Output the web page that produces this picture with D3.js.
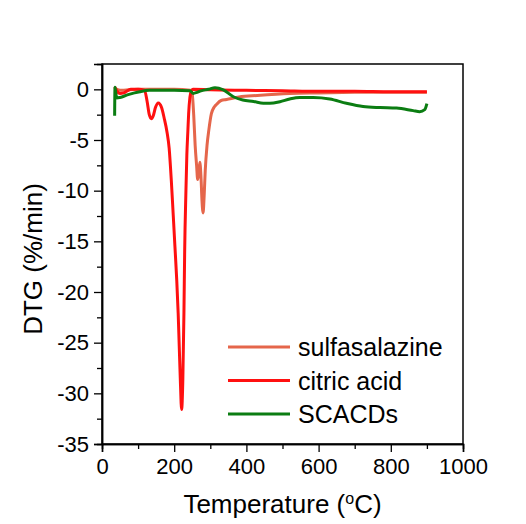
<!DOCTYPE html>
<html>
<head>
<meta charset="utf-8">
<script src="https://cdn.jsdelivr.net/npm/d3@7"></script>
<style>
  body { margin: 0; background: #fff; }
  svg text { font-family: "Liberation Sans", Arial, sans-serif; fill: #000; }
</style>
</head>
<body>
<div id="chart"></div>
<script>
// series names and colours
var seriesNames = ["sulfasalazine", "citric acid", "SCACDs"];
var seriesColors = ["#e5664b", "#ff1010", "#0b7d12"];

// temperature (°C) and DTG (%/min)
var sulfaT = [35, 50, 100, 200, 245, 250, 254, 258, 262, 265, 268, 271, 274, 277, 280, 283, 286, 291, 296, 303, 310, 317, 330, 345, 380, 430, 520, 600, 700, 800, 900];
var sulfaV = [0.1, -0.1, 0, 0, -0.1, -0.5, -2.5, -5.5, -7.5, -8.9, -8.3, -7.2, -8.5, -11, -12.2, -10.5, -8, -5.5, -4, -2.4, -1.8, -1.5, -1.1, -1.0, -0.75, -0.6, -0.4, -0.35, -0.3, -0.28, -0.3];

var citricT = [35, 40, 50, 60, 70, 80, 100, 118, 125, 131, 137, 142, 148, 156, 165, 172, 180, 186, 192, 197, 202, 207, 211, 214, 217, 220.5, 224, 227, 229, 232.5, 235, 238, 240, 243.5, 247, 252, 300, 400, 500, 600, 700, 800, 900];
var citricV = [0.25, -0.1, -0.4, -0.35, -0.15, 0, 0, -0.1, -1.2, -2.5, -2.9, -2.6, -1.8, -1.35, -1.8, -2.8, -4.2, -5.8, -9, -12.2, -15.5, -18.8, -22.1, -25.4, -28.7, -31.6, -28.5, -22, -16, -10, -6.5, -4, -2.4, -0.8, -0.2, 0, -0.05, -0.1, -0.15, -0.2, -0.2, -0.25, -0.25];

var scacdT = [35, 36, 38, 41, 50, 70, 90, 105, 131, 155, 200, 243, 253, 263, 274, 295, 313, 336, 364, 390, 420, 447, 465, 493, 520, 548, 585, 631, 677, 723, 770, 816, 862, 880, 894, 900];
var scacdV = [-2.6, 0.2, -0.3, -0.85, -0.8, -0.55, -0.35, -0.23, -0.1, -0.1, -0.1, -0.13, -0.4, -0.3, -0.15, 0, 0.16, -0.05, -0.73, -1.05, -1.2, -1.38, -1.38, -1.22, -0.95, -0.8, -0.8, -0.95, -1.38, -1.7, -1.8, -1.85, -2.1, -2.2, -2.0, -1.4];

// axis ticks
var xTicks = [0, 200, 400, 600, 800, 1000];
var xMinor = [100, 300, 500, 700, 900];
var yTicks = [0, -5, -10, -15, -20, -25, -30, -35];
var yMinor = [-2.5, -7.5, -12.5, -17.5, -22.5, -27.5, -32.5];

function build(ts, vs) {
    return ts.map(function(t, i) { return {t: t, v: vs[i]}; });
}
var series = [build(sulfaT, sulfaV), build(citricT, citricV), build(scacdT, scacdV)];

var W = 526, H = 524;
var margin = {top: 64, right: 63, bottom: 80, left: 102},
    width = W - margin.left - margin.right,
    height = H - margin.top - margin.bottom;

var svg = d3.select("#chart").append("svg")
    .attr("width", W)
    .attr("height", H)
  .append("g")
    .attr("transform", "translate(" + margin.left + "," + margin.top + ")");

var xScale = d3.scaleLinear().domain([0, 1000]).range([0, width]);
var yScale = d3.scaleLinear().domain([-35, 2.5]).range([height, 0]);

// frame
svg.append("rect")
    .attr("width", width)
    .attr("height", height)
    .attr("fill", "none")
    .attr("stroke", "#000")
    .attr("stroke-width", 1.5);

// x axis
var xAxis = svg.append("g")
    .attr("transform", "translate(0," + height + ")")
    .call(d3.axisBottom(xScale).tickValues(xTicks).tickSize(8).tickPadding(6).tickFormat(d3.format("d")));
svg.append("g")
    .attr("transform", "translate(0," + height + ")")
    .call(d3.axisBottom(xScale).tickValues(xMinor).tickSize(5).tickFormat(""));

// y axis
var yAxis = svg.append("g")
    .call(d3.axisLeft(yScale).tickValues(yTicks).tickSize(8).tickPadding(5).tickFormat(function(d) { return d === 0 ? "0" : "-" + Math.abs(d); }));
svg.append("g")
    .call(d3.axisLeft(yScale).tickValues(yMinor).tickSize(5).tickFormat(""));

svg.selectAll(".domain").attr("stroke", "#000").attr("stroke-width", 1.5);
svg.selectAll(".tick line").attr("stroke", "#000").attr("stroke-width", 1.3);
svg.selectAll(".tick text")
    .style("font-family", "'Liberation Sans', Arial, sans-serif")
    .style("font-size", "22px")
    .attr("fill", "#000");

// lines
var line = d3.line()
    .x(function(d) { return xScale(d.t); })
    .y(function(d) { return yScale(d.v); })
    .curve(d3.curveMonotoneX);

series.forEach(function(s, i) {
    svg.append("path")
        .datum(s)
        .attr("d", line)
        .attr("fill", "none")
        .attr("stroke", seriesColors[i])
        .attr("stroke-width", 3)
        .attr("stroke-linejoin", "round");
});

// legend
var legend = svg.append("g").attr("transform", "translate(126,283)");
seriesNames.forEach(function(name, i) {
    var g = legend.append("g").attr("transform", "translate(0," + (i * 33.5) + ")");
    g.append("line")
        .attr("x1", 0).attr("x2", 62)
        .attr("stroke", seriesColors[i])
        .attr("stroke-width", 3);
    g.append("text")
        .attr("x", 70)
        .attr("y", 9)
        .style("font-size", "25px")
        .text(name);
});

// axis titles
var xt = svg.append("text")
    .attr("x", width / 2)
    .attr("y", height + 69)
    .attr("text-anchor", "middle")
    .style("font-size", "26px");
xt.append("tspan").text("Temperature (");
xt.append("tspan").attr("dy", -9).style("font-size", "16px").text("o");
xt.append("tspan").attr("dy", 9).text("C)");

svg.append("text")
    .attr("transform", "translate(" + (42 - margin.left) + "," + (259 - margin.top) + ") rotate(-90)")
    .attr("text-anchor", "middle")
    .style("font-size", "26px")
    .text("DTG (%/min)");
</script>
</body>
</html>
